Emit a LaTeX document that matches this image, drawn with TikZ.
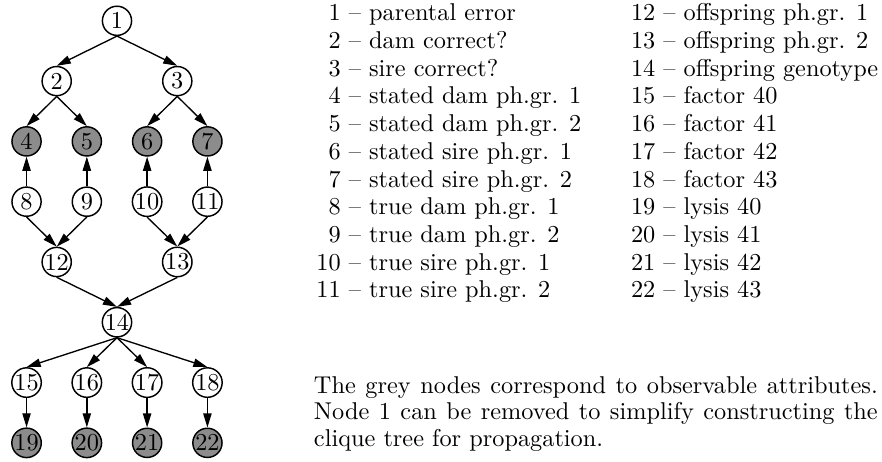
\documentclass[tikz,border=0pt]{standalone}
\usetikzlibrary{positioning,arrows.meta}

\tikzset{
    attr/.style={circle, draw, line width=0.6pt, minimum size=12pt, inner sep=0pt,
        font=\fontsize{10}{12}\selectfont},
    obsattr/.style={attr, fill=black!45},
    link/.style={-{Triangle[length=5.8pt,width=3.4pt]}, line width=0.55pt},
    legend/.style={inner sep=0pt, anchor=base west, font=\fontsize{10}{11.4}\selectfont},
}

\begin{document}
\begin{tikzpicture}[on grid]
    \useasboundingbox (-1.692,0.301) rectangle (11.064,-6.367);

    % parental error, dam, sire
    \node[attr] (perr) {1};
    \node[attr, below left=0.872cm and 0.872cm of perr] (dam) {2};
    \node[attr, below right=0.872cm and 0.872cm of perr] (sire) {3};

    % stated phenogroups
    \node[obsattr, below left=0.872cm and 0.436cm of dam] (sd1) {4};
    \node[obsattr, below right=0.872cm and 0.436cm of dam] (sd2) {5};
    \node[obsattr, below left=0.872cm and 0.436cm of sire] (ss1) {6};
    \node[obsattr, below right=0.872cm and 0.436cm of sire] (ss2) {7};

    % true phenogroups
    \node[attr, below=0.872cm of sd1] (td1) {8};
    \node[attr, below=0.872cm of sd2] (td2) {9};
    \node[attr, below=0.872cm of ss1] (ts1) {10};
    \node[attr, below=0.872cm of ss2] (ts2) {11};

    % offspring
    \node[attr, below right=0.872cm and 0.436cm of td1] (off1) {12};
    \node[attr, below right=0.872cm and 0.436cm of ts1] (off2) {13};
    \node[attr, below right=0.872cm and 0.872cm of off1] (geno) {14};

    % factors and lysis
    \node[attr, below left=0.872cm and 1.308cm of geno] (fac40) {15};
    \node[attr, below left=0.872cm and 0.436cm of geno] (fac41) {16};
    \node[attr, below right=0.872cm and 0.436cm of geno] (fac42) {17};
    \node[attr, below right=0.872cm and 1.308cm of geno] (fac43) {18};
    \node[obsattr, below=0.872cm of fac40] (lys40) {19};
    \node[obsattr, below=0.872cm of fac41] (lys41) {20};
    \node[obsattr, below=0.872cm of fac42] (lys42) {21};
    \node[obsattr, below=0.872cm of fac43] (lys43) {22};

    \path[link]
        (perr.south) edge (dam.north) edge (sire.north)
        (dam.south) edge (sd1.north) edge (sd2.north)
        (sire.south) edge (ss1.north) edge (ss2.north)
        (td1.north) edge (sd1.south)
        (td2.north) edge (sd2.south)
        (ts1.north) edge (ss1.south)
        (ts2.north) edge (ss2.south)
        (td1.south) edge (off1.north)
        (td2.south) edge (off1.north)
        (ts1.south) edge (off2.north)
        (ts2.south) edge (off2.north)
        (off1.south) edge (geno.north)
        (off2.south) edge (geno.north)
        (geno.south) edge (fac40.north) edge (fac41.north)
                     edge (fac42.north) edge (fac43.north)
        (fac40.south) edge (lys40.north)
        (fac41.south) edge (lys41.north)
        (fac42.south) edge (lys42.north)
        (fac43.south) edge (lys43.north);

    % legend
    \node[legend] (legA) at ([xshift=2.878cm]perr.center) {%
        \begin{tabular}[t]{@{}r@{\ --\ }l@{}}
            1 & parental error\\
            2 & dam correct?\\
            3 & sire correct?\\
            4 & stated dam ph.gr. 1\\
            5 & stated dam ph.gr. 2\\
            6 & stated sire ph.gr. 1\\
            7 & stated sire ph.gr. 2\\
            8 & true dam ph.gr. 1\\
            9 & true dam ph.gr. 2\\
            10 & true sire ph.gr. 1\\
            11 & true sire ph.gr. 2
        \end{tabular}};
    \node[legend] (legB) at ([xshift=4.549cm]legA.base west) {%
        \begin{tabular}[t]{@{}r@{\ --\ }l@{}}
            12 & offspring ph.gr. 1\\
            13 & offspring ph.gr. 2\\
            14 & offspring genotype\\
            15 & factor 40\\
            16 & factor 41\\
            17 & factor 42\\
            18 & factor 43\\
            19 & lysis 40\\
            20 & lysis 41\\
            21 & lysis 42\\
            22 & lysis 43
        \end{tabular}};

    % note
    \node[legend, font=\fontsize{10}{11}\selectfont] (note)
        at ([xshift=-0.036cm, yshift=-5.385cm]legA.base west) {%
        \parbox[t]{232pt}{The grey nodes correspond to observable attributes.
        Node 1 can be removed to simplify constructing the clique tree for propagation.}};
\end{tikzpicture}
\end{document}
